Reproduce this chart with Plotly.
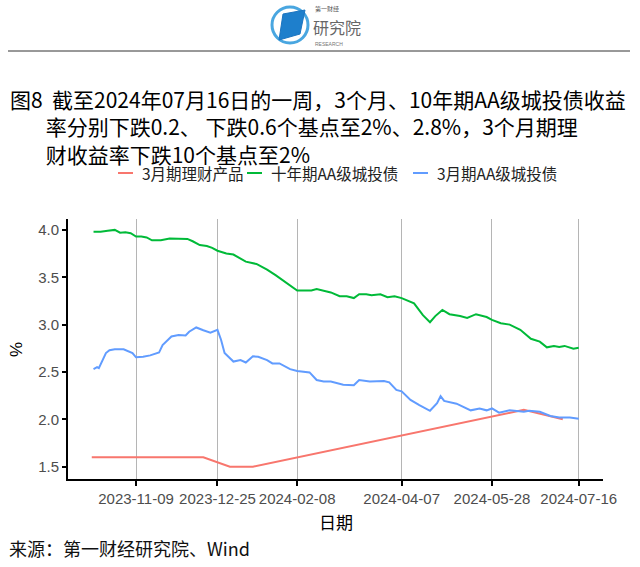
import plotly.graph_objects as go

# ---------------- data ----------------
red_dates = ["2023-10-15", "2023-12-17", "2024-01-01", "2024-01-14", "2024-06-15", "2024-07-07"]
red_vals = [1.60, 1.60, 1.50, 1.50, 2.10, 2.00]

green_dates = [
    "2023-10-16", "2023-10-20", "2023-10-24", "2023-10-28", "2023-10-31", "2023-11-03", "2023-11-06",
    "2023-11-09", "2023-11-12", "2023-11-15", "2023-11-18", "2023-11-23", "2023-11-28", "2023-12-04",
    "2023-12-08", "2023-12-11", "2023-12-15", "2023-12-19", "2023-12-22", "2023-12-25", "2023-12-30",
    "2024-01-03", "2024-01-07", "2024-01-10", "2024-01-16", "2024-01-22", "2024-01-27", "2024-02-02",
    "2024-02-08", "2024-02-13", "2024-02-16", "2024-02-19", "2024-02-23", "2024-02-27", "2024-03-03",
    "2024-03-07", "2024-03-11", "2024-03-14", "2024-03-18", "2024-03-21", "2024-03-26", "2024-03-30",
    "2024-04-03", "2024-04-07", "2024-04-14", "2024-04-19", "2024-04-23", "2024-04-26", "2024-04-30",
    "2024-05-04", "2024-05-10", "2024-05-14", "2024-05-19", "2024-05-25", "2024-05-28", "2024-06-02",
    "2024-06-07", "2024-06-13", "2024-06-19", "2024-06-24", "2024-06-28", "2024-07-02", "2024-07-05",
    "2024-07-08", "2024-07-13", "2024-07-16",
]
green_vals = [
    3.98, 3.98, 3.99, 4.00, 3.97, 3.975, 3.965,
    3.93, 3.93, 3.92, 3.89, 3.89, 3.91, 3.905,
    3.905, 3.88, 3.84, 3.83, 3.81, 3.78, 3.75,
    3.74, 3.70, 3.665, 3.64, 3.58, 3.52, 3.44,
    3.36, 3.36, 3.36, 3.375, 3.36, 3.34, 3.30,
    3.30, 3.28, 3.32, 3.32, 3.31, 3.32, 3.29,
    3.30, 3.28, 3.225, 3.10, 3.025, 3.09, 3.155,
    3.11, 3.09, 3.07, 3.11, 3.08, 3.05, 3.015,
    3.00, 2.945, 2.85, 2.82, 2.76, 2.775, 2.765,
    2.775, 2.745, 2.755,
]

blue_dates = [
    "2023-10-16", "2023-10-18", "2023-10-19", "2023-10-21", "2023-10-23", "2023-10-25", "2023-10-28",
    "2023-11-02", "2023-11-07", "2023-11-09", "2023-11-13", "2023-11-17", "2023-11-22", "2023-11-24",
    "2023-11-29", "2023-12-03", "2023-12-07", "2023-12-09", "2023-12-13", "2023-12-17", "2023-12-21",
    "2023-12-25", "2023-12-27", "2023-12-29", "2023-12-31", "2024-01-03", "2024-01-07", "2024-01-10",
    "2024-01-14", "2024-01-17", "2024-01-22", "2024-01-25", "2024-01-29", "2024-02-04", "2024-02-08",
    "2024-02-15", "2024-02-19", "2024-02-23", "2024-02-27", "2024-03-05", "2024-03-11", "2024-03-14",
    "2024-03-20", "2024-03-28", "2024-03-31", "2024-04-04", "2024-04-07", "2024-04-12", "2024-04-17",
    "2024-04-23", "2024-04-27", "2024-04-29", "2024-05-01", "2024-05-08", "2024-05-16", "2024-05-21",
    "2024-05-25", "2024-05-28", "2024-06-01", "2024-06-07", "2024-06-15", "2024-06-18", "2024-06-24",
    "2024-06-30", "2024-07-05", "2024-07-11", "2024-07-16",
]
blue_vals = [
    2.53, 2.55, 2.54, 2.625, 2.70, 2.73, 2.74,
    2.74, 2.70, 2.655, 2.66, 2.675, 2.705, 2.785,
    2.875, 2.89, 2.885, 2.925, 2.97, 2.94, 2.915,
    2.945, 2.84, 2.70, 2.665, 2.61, 2.625, 2.60,
    2.665, 2.66, 2.625, 2.59, 2.59, 2.53, 2.51,
    2.495, 2.415, 2.40, 2.40, 2.365, 2.36, 2.415,
    2.40, 2.405, 2.39, 2.31, 2.295, 2.205, 2.15,
    2.09, 2.17, 2.245, 2.195, 2.165, 2.095, 2.115,
    2.095, 2.115, 2.07, 2.095, 2.08, 2.09, 2.08,
    2.035, 2.02, 2.02, 2.005,
]

series_names = ["3月期理财产品", "十年期AA级城投债", "3月期AA级城投债"]
series_colors = ["#F8766D", "#00BA38", "#619CFF"]

x_tick_vals = ["2023-11-09", "2023-12-25", "2024-02-08", "2024-04-07", "2024-05-28", "2024-07-16"]
x_tick_text = ["2023-11-09", "2023-12-25", "2024-02-08", "2024-04-07", "2024-05-28", "2024-07-16"]
y_tick_vals = [1.5, 2.0, 2.5, 3.0, 3.5, 4.0]
y_tick_text = ["1.5", "2.0", "2.5", "3.0", "3.5", "4.0"]

title_lines = [
    "图8 \u00a0截至2024年07月16日的一周，3个月、10年期AA级城投债收益",
    "率分别下跌0.2、 下跌0.6个基点至2%、2.8%，3个月期理",
    "财收益率下跌10个基点至2%",
]
source_text = "来源：第一财经研究院、Wind"

# ---------------- figure ----------------
W, H = 640, 567


def px(x):
    return x / W


def py(y):
    return 1 - y / H


fig = go.Figure()
for d, v, n, c in zip([red_dates, green_dates, blue_dates],
                      [red_vals, green_vals, blue_vals],
                      series_names, series_colors):
    fig.add_trace(go.Scatter(x=d, y=v, mode="lines", name=n,
                             line=dict(color=c, width=2), showlegend=False))

CJK = "Noto Sans CJK SC, Liberation Sans, sans-serif"
SANS = "Liberation Sans, Arial, sans-serif"

fig.update_layout(
    width=W, height=H,
    margin=dict(l=0, r=0, t=0, b=0, autoexpand=False),
    paper_bgcolor="white", plot_bgcolor="white",
    font=dict(family=CJK, color="black"),
    showlegend=False,
)
fig.update_xaxes(
    domain=[px(68), px(603)],
    range=["2023-10-01 14:00", "2024-07-29 17:00"],
    tickmode="array", tickvals=x_tick_vals, ticktext=x_tick_text, tickangle=0,
    showgrid=True, gridcolor="#b5b5b5", gridwidth=1,
    showline=True, linecolor="black", linewidth=2,
    ticks="outside", ticklen=5, tickcolor="black", tickwidth=1.5,
    tickfont=dict(size=15, family=SANS, color="#4d4d4d"),
    zeroline=False, automargin=False,
)
fig.update_yaxes(
    domain=[1 - 479 / H, 1 - 219 / H],
    range=[1.37, 4.115],
    tickmode="array", tickvals=y_tick_vals, ticktext=y_tick_text,
    showgrid=False, zeroline=False,
    showline=True, linecolor="black", linewidth=2,
    ticks="outside", ticklen=4, tickcolor="black", tickwidth=1.5,
    tickfont=dict(size=15, family=SANS, color="#4d4d4d"),
    automargin=False,
)

ann = []
# title block (one text, indented continuation lines)
indent = "\u3000\u2002\u2009"
title_text = title_lines[0] + "<br>" + indent + title_lines[1] + "<br>" + indent + title_lines[2]
ann.append(dict(text=title_text, x=px(8), y=py(126), xref="paper", yref="paper",
                xanchor="left", yanchor="middle", align="left", showarrow=False,
                font=dict(size=21, family=CJK, color="black")))
# axis titles
ann.append(dict(text="%", x=px(16), y=py(350), xref="paper", yref="paper",
                xanchor="center", yanchor="middle", showarrow=False, textangle=-90,
                font=dict(size=17, family=SANS, color="black")))
ann.append(dict(text="日期", x=px(336), y=py(521), xref="paper", yref="paper",
                xanchor="center", yanchor="middle", showarrow=False,
                font=dict(size=17, family=CJK, color="black")))
# source
ann.append(dict(text=source_text, x=px(7), y=py(548), xref="paper", yref="paper",
                xanchor="left", yanchor="middle", showarrow=False,
                font=dict(size=18, family=CJK, color="#111")))
# logo text
ann.append(dict(text="第一财经", x=px(313), y=py(9), xref="paper", yref="paper",
                xanchor="left", yanchor="middle", showarrow=False,
                font=dict(size=6, family=CJK, color="#555")))
ann.append(dict(text="研究院", x=px(311), y=py(27), xref="paper", yref="paper",
                xanchor="left", yanchor="middle", showarrow=False,
                font=dict(size=16, family=CJK, color="#666")))
ann.append(dict(text="RESEARCH", x=px(313), y=py(44), xref="paper", yref="paper",
                xanchor="left", yanchor="middle", showarrow=False,
                font=dict(size=5, family=SANS, color="#777")))

shapes = []
# manual legend (ggplot-style short keys)
legend_key_x = [118, 247, 413]
legend_y = 173
for name, col, kx in zip(series_names, series_colors, legend_key_x):
    shapes.append(dict(type="line", xref="paper", yref="paper",
                       x0=px(kx), x1=px(kx + 15), y0=py(legend_y), y1=py(legend_y),
                       line=dict(color=col, width=2)))
    ann.append(dict(text=name, x=px(kx + 22), y=py(legend_y), xref="paper", yref="paper",
                    xanchor="left", yanchor="middle", showarrow=False,
                    font=dict(size=15.5, family=CJK, color="#222")))
fig.update_layout(annotations=ann)

# rule under header
shapes.append(dict(type="line", xref="paper", yref="paper",
                   x0=px(8), x1=px(630), y0=py(51), y1=py(51),
                   line=dict(color="#333", width=1)))
# logo ring
shapes.append(dict(type="circle", xref="paper", yref="paper",
                   x0=px(272), x1=px(308), y0=py(43), y1=py(7),
                   line=dict(color="#49a6e0", width=3), fillcolor="rgba(0,0,0,0)"))
# logo book
shapes.append(dict(type="path", xref="paper", yref="paper",
                   path=f"M {px(283)},{py(14)} L {px(305)},{py(10)} L {px(300)},{py(34)} L {px(279)},{py(40)} Z",
                   line=dict(color="#1b74c0", width=1), fillcolor="#1e7fcc"))
fig.update_layout(shapes=shapes)

fig.write_html("out.html")
